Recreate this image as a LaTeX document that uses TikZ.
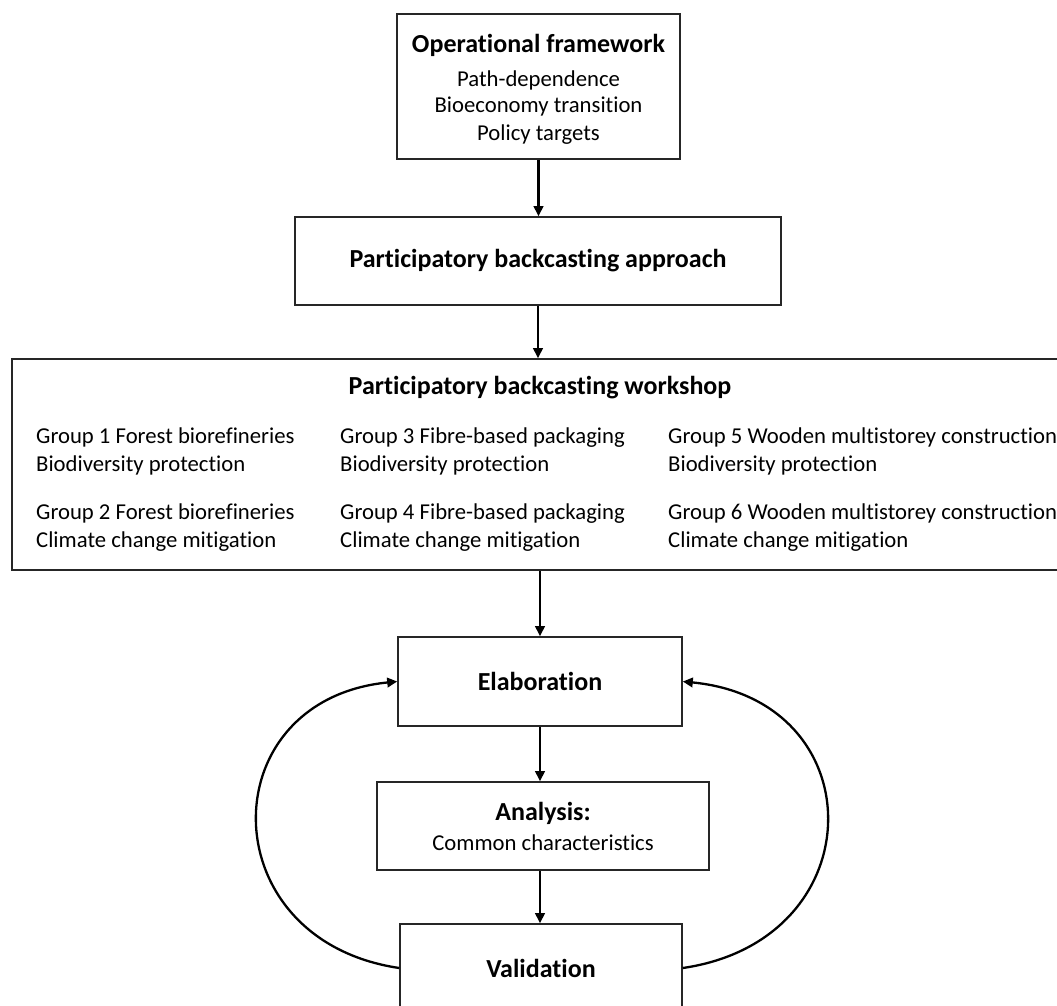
\documentclass[tikz,border=0pt]{standalone}
\usepackage{fontspec}
\setmainfont{Carlito}[Ligatures=NoCommon]
\usetikzlibrary{arrows.meta}
\begin{document}
\begin{tikzpicture}[x=1pt,y=-1pt,
  box/.style={draw=black!85, line width=1.6pt, rectangle, inner sep=0pt, align=center},
  reg/.style={inner sep=0pt, font=\fontsize{22.7}{27}\selectfont},
  bld/.style={inner sep=0pt, font=\fontsize{26}{30}\selectfont\bfseries},
  grp/.style={inner sep=0pt, anchor=west, align=left, font=\fontsize{22.7}{28}\selectfont},
  arr/.style={line width=2.3pt, -{Triangle[length=10pt,width=9.5pt]}}
]
\clip (0,0) rectangle (1057,1006);
\fill[white] (0,0) rectangle (1057,1006);
% boxes
\node[box, minimum width=283pt, minimum height=145pt] (op) at (538.5,86.5) {};
\node[bld] (opt) at (538.5,45) {Operational framework};
\node[reg] (op1) at (538.5,80) {Path-dependence};
\node[reg] (op2) at (538.5,107) {Bioeconomy transition};
\node[reg] (op3) at (538.5,135) {Policy targets};

\node[box, minimum width=486pt, minimum height=88pt, bld] (ap) at (538,261) {Participatory backcasting approach};

\node[box, minimum width=1068pt, minimum height=211pt] (ws) at (546,464.5) {};
\node[bld] (wst) at (540,388) {Participatory backcasting workshop};
\node[grp] (g1) at (36,451.5) {Group 1 Forest biorefineries\\Biodiversity protection};
\node[grp] (g2) at (36,527.5) {Group 2 Forest biorefineries\\Climate change mitigation};
\node[grp] (g3) at (340,451.5) {Group 3 Fibre-based packaging\\Biodiversity protection};
\node[grp] (g4) at (340,527.5) {Group 4 Fibre-based packaging\\Climate change mitigation};
\node[grp] (g5) at (668,451.5) {Group 5 Wooden multistorey construction\\Biodiversity protection};
\node[grp] (g6) at (668,527.5) {Group 6 Wooden multistorey construction\\Climate change mitigation};

\node[box, minimum width=284pt, minimum height=89pt, bld] (el) at (540,681.5) {Elaboration};

\node[box, minimum width=332pt, minimum height=88pt] (an) at (543,826) {};
\node[bld] (ant) at (543,813) {Analysis:};
\node[reg] (an1) at (543,843) {Common characteristics};

\node[box, minimum width=282pt, minimum height=88pt, bld] (va) at (541,968) {Validation};

% connectors
\draw[arr] (op.south) -- (op.south |- ap.north);
\draw[arr] (ap.south) -- (ap.south |- ws.north);
\draw[arr] (el.north |- ws.south) -- (el.north);
\draw[arr] (el.south) -- (el.south |- an.north);
\draw[arr] (an.south -| el.south) -- (el.south |- va.north);
\draw[arr] (va.west) .. controls (210,940) and (210,700) .. (el.west);
\draw[arr] (va.east) .. controls (875,940) and (875,700) .. (el.east);
\end{tikzpicture}
\end{document}
